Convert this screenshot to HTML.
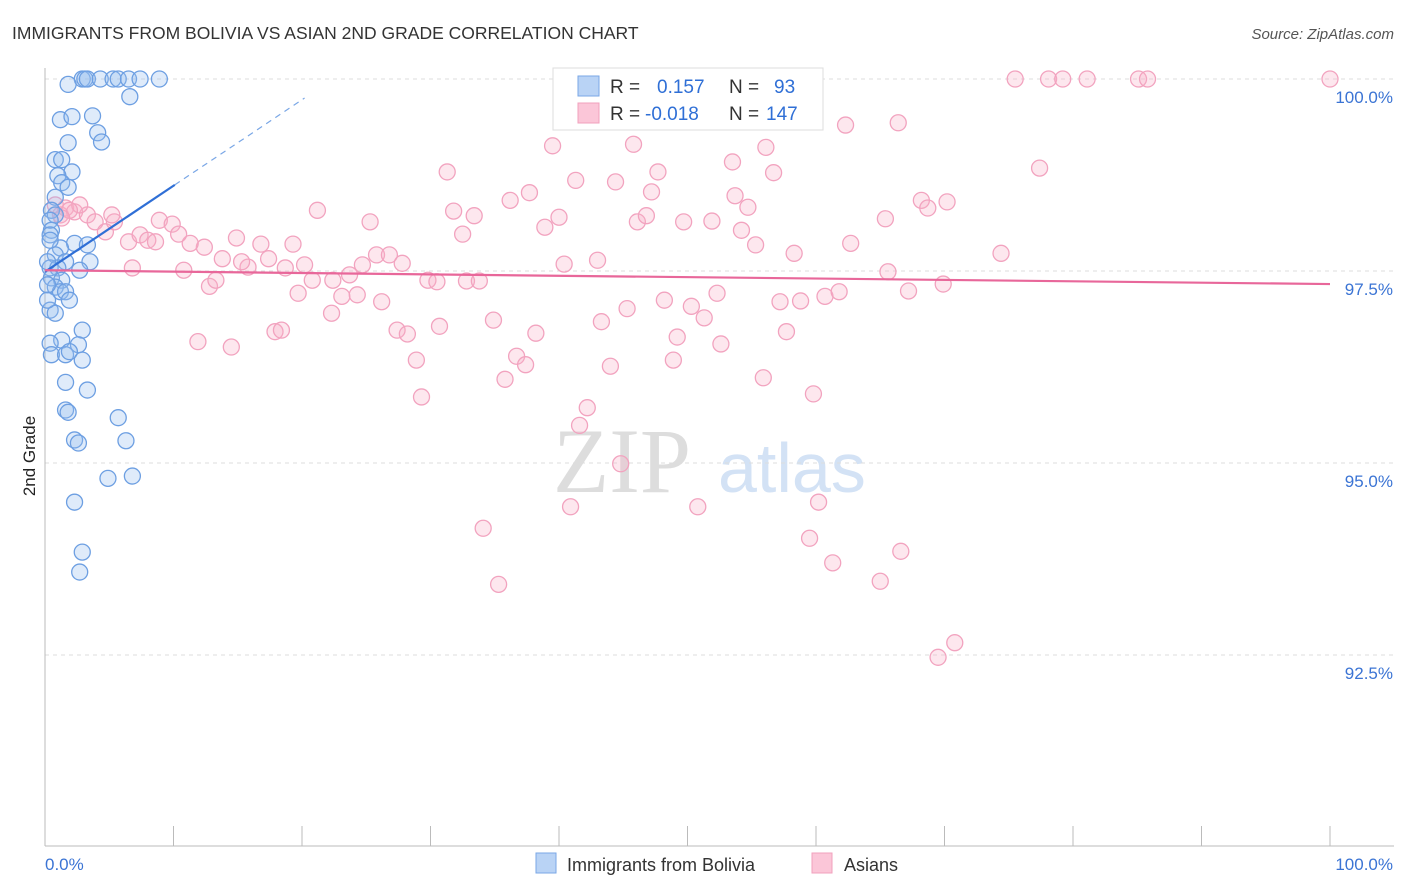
<!DOCTYPE html>
<html><head><meta charset="utf-8"><style>
body{margin:0;background:#fff;font-family:"Liberation Sans",sans-serif;}
#wrap{position:relative;width:1406px;height:892px;overflow:hidden;}
</style></head><body>
<div id="wrap">
<svg id="svg" width="1406" height="892" xmlns="http://www.w3.org/2000/svg">
<text x="12" y="39" font-size="17.5" fill="#333">IMMIGRANTS FROM BOLIVIA VS ASIAN 2ND GRADE CORRELATION CHART</text>
<text x="1394" y="39" font-size="15" fill="#555" font-style="italic" text-anchor="end">Source: ZipAtlas.com</text>
<text x="35" y="456" font-size="17" fill="#222" transform="rotate(-90 35 456)" text-anchor="middle">2nd Grade</text>
<g>
<text x="553" y="492" font-family="Liberation Serif,serif" font-size="92" fill="#ddd">ZIP</text>
<text x="718" y="492" font-size="70" fill="#d3e2f5">atlas</text>
</g>
<g id="grid"></g>
<g id="pts"></g>
<g id="lines"></g>
<g>
<rect x="553" y="68" width="270" height="62" fill="#fff" stroke="#ddd"/>
<rect x="578" y="76" width="21" height="20" fill="#b9d3f5" stroke="#7aa7e6"/>
<rect x="578" y="103" width="21" height="20" fill="#fbc6d8" stroke="#f2a0bd"/>
<text x="610" y="93" font-size="19" fill="#333">R = <tspan fill="#2f6fd6" x="657">0.157</tspan><tspan fill="#333" x="729">N =</tspan><tspan fill="#2f6fd6" x="774">93</tspan></text>
<text x="610" y="120" font-size="19" fill="#333">R = <tspan fill="#2f6fd6" x="645">-0.018</tspan><tspan fill="#333" x="729">N =</tspan><tspan fill="#2f6fd6" x="766">147</tspan></text>
</g>
<g>
<rect x="536" y="853" width="20" height="20" fill="#b9d3f5" stroke="#7aa7e6"/>
<text x="567" y="871" font-size="18" fill="#333">Immigrants from Bolivia</text>
<rect x="812" y="853" width="20" height="20" fill="#fbc6d8" stroke="#f2a0bd"/>
<text x="844" y="871" font-size="18" fill="#333">Asians</text>
</g>
</svg>
</div>
<script>
const yTicks=[100,97.5,95,92.5];
const yTickLabels=["100.0%","97.5%","95.0%","92.5%"];
const xTickLabels=["0.0%","100.0%"];
const blueX=[2.9,3.1,3.3,4.3,5.3,5.7,6.5,7.4,8.9,1.8,6.6,1.2,2.1,3.7,4.1,1.8,4.4,0.8,1.3,2.1,1.0,1.3,1.8,0.8,0.5,0.8,0.4,0.5,0.4,2.3,1.2,3.3,0.8,1.6,3.5,0.4,1.0,2.7,0.5,1.3,0.8,1.2,1.6,1.9,0.4,0.8,2.9,1.3,0.4,2.6,0.5,1.6,1.9,2.9,1.6,3.3,1.6,1.8,5.7,2.3,2.6,6.3,4.9,6.8,2.3,2.9,2.7,0.4,0.2,0.2,0.2];
const blueY=[100,100,100,100,100,100,100,100,100,99.93,99.77,99.47,99.51,99.52,99.30,99.17,99.18,98.95,98.95,98.79,98.74,98.65,98.59,98.46,98.29,98.23,98.16,98.03,97.97,97.86,97.80,97.84,97.71,97.62,97.62,97.54,97.54,97.51,97.41,97.38,97.29,97.23,97.23,97.12,96.99,96.95,96.73,96.60,96.56,96.54,96.41,96.41,96.45,96.34,96.05,95.95,95.69,95.66,95.59,95.30,95.26,95.29,94.80,94.83,94.49,93.84,93.58,97.90,97.62,97.32,97.12];
const pinkX=[75.5,78.1,79.2,81.1,85.1,85.8,100,66.4,62.3,39.5,45.8,53.5,56.1,47.7,31.3,41.3,44.4,77.4,56.7,37.7,36.2,47.2,53.7,54.7,68.2,68.7,70.2,21.2,31.8,33.4,40.0,46.1,46.8,49.7,51.9,65.4,25.3,38.9,32.5,54.2,55.3,62.7,74.4,58.3,14.9,16.8,19.3,12.4,11.3,8.9,9.9,10.4,0.8,1.2,1.6,2.3,3.3,3.9,4.7,5.4,6.5,7.4,8.0,8.6,5.2,2.7,1.9,1.3,13.8,15.8,17.4,6.8,10.8,12.8,13.3,15.3,18.7,20.2,20.8,22.4,23.7,24.7,25.8,26.8,27.8,29.8,30.5,32.8,33.8,40.4,43.0,65.6,69.9,67.2,19.7,23.1,24.3,26.2,48.2,50.3,52.3,57.2,58.8,60.7,61.8,22.3,34.9,45.3,51.3,43.3,17.9,18.4,27.4,28.2,30.7,38.2,49.2,57.7,11.9,14.5,52.6,28.9,36.7,37.4,44.0,48.9,35.8,55.9,29.3,59.8,42.2,41.6,44.8,40.9,50.8,60.2,34.1,59.5,66.6,61.3,65.0,35.3,70.8,69.5];
const pinkY=[100,100,100,100,100,100,100,99.43,99.40,99.13,99.15,98.92,99.11,98.79,98.79,98.68,98.66,98.84,98.78,98.52,98.42,98.53,98.48,98.33,98.42,98.32,98.40,98.29,98.28,98.22,98.20,98.14,98.22,98.14,98.15,98.18,98.14,98.07,97.98,98.03,97.84,97.86,97.73,97.73,97.93,97.85,97.85,97.81,97.86,98.16,98.11,97.98,98.36,98.23,98.32,98.27,98.23,98.14,98.01,98.14,97.88,97.97,97.90,97.88,98.23,98.36,98.29,98.19,97.66,97.55,97.66,97.54,97.51,97.30,97.38,97.62,97.54,97.58,97.38,97.38,97.45,97.58,97.71,97.71,97.60,97.38,97.36,97.37,97.37,97.59,97.64,97.49,97.33,97.24,97.21,97.17,97.19,97.10,97.12,97.04,97.21,97.10,97.11,97.17,97.23,96.95,96.86,97.01,96.89,96.84,96.71,96.73,96.73,96.68,96.78,96.69,96.64,96.71,96.58,96.51,96.55,96.34,96.39,96.28,96.26,96.34,96.09,96.11,95.86,95.90,95.72,95.49,94.99,94.43,94.43,94.49,94.15,94.02,93.85,93.70,93.46,93.42,92.66,92.47];
const blueTrend=[97.49,0.112];   // intercept, slope per %
const pinkTrend=[97.51,-0.0018];
const NS="http://www.w3.org/2000/svg";
const xs=v=>45+v*12.85;
const ys=v=>79+(100-v)*76.8;
function mk(tag,attrs,parent){const e=document.createElementNS(NS,tag);for(const k in attrs)e.setAttribute(k,attrs[k]);parent.appendChild(e);return e;}
const grid=document.getElementById('grid');
yTicks.forEach((t,i)=>{
  const l=mk('line',{x1:45,x2:1394,y1:ys(t),y2:ys(t),stroke:'#ddd','stroke-dasharray':'4,4'},grid);
  
  
  const tx=mk('text',{x:1393,y:ys(t)+24,'font-size':17,fill:'#3b74d4','text-anchor':'end'},grid);
  tx.textContent=yTickLabels[i];
  
  
});
let ax=mk('line',{x1:45,x2:45,y1:68,y2:846,stroke:'#bbb'},grid);


ax=mk('line',{x1:45,x2:1394,y1:846,y2:846,stroke:'#bbb'},grid);


for(let i=0;i<=10;i++){
  const t=mk('line',{x1:xs(i*10),x2:xs(i*10),y1:826,y2:846,stroke:'#bbb'},grid);
  
  
}
let xl=mk('text',{x:45,y:870,'font-size':17,fill:'#3b74d4'},grid);xl.textContent=xTickLabels[0];


xl=mk('text',{x:1393,y:870,'font-size':17,fill:'#3b74d4','text-anchor':'end'},grid);xl.textContent=xTickLabels[1];


const pts=document.getElementById('pts');
pinkX.forEach((x,i)=>{
  const c=mk('circle',{cx:xs(x),cy:ys(pinkY[i]),r:8,fill:'rgba(248,175,200,0.3)',stroke:'#f2a3bf','stroke-width':1.3},pts);
  
  
});
blueX.forEach((x,i)=>{
  const c=mk('circle',{cx:xs(x),cy:ys(blueY[i]),r:8,fill:'rgba(150,190,240,0.3)',stroke:'#6d9fe2','stroke-width':1.3},pts);
  
  
});
const lines=document.getElementById('lines');
let tl=mk('line',{x1:xs(0),y1:ys(blueTrend[0]),x2:xs(10.1),y2:ys(blueTrend[0]+blueTrend[1]*10.1),stroke:'#2f6fd6','stroke-width':2.2},lines);


tl=mk('line',{x1:xs(10.1),y1:ys(blueTrend[0]+blueTrend[1]*10.1),x2:xs(20.2),y2:ys(blueTrend[0]+blueTrend[1]*20.2),stroke:'#7aa7e6','stroke-width':1.2,'stroke-dasharray':'6,5'},lines);


tl=mk('line',{x1:xs(0),y1:ys(pinkTrend[0]),x2:xs(100),y2:ys(pinkTrend[0]+pinkTrend[1]*100),stroke:'#e8679a','stroke-width':2.2},lines);


</script>
</body></html>
